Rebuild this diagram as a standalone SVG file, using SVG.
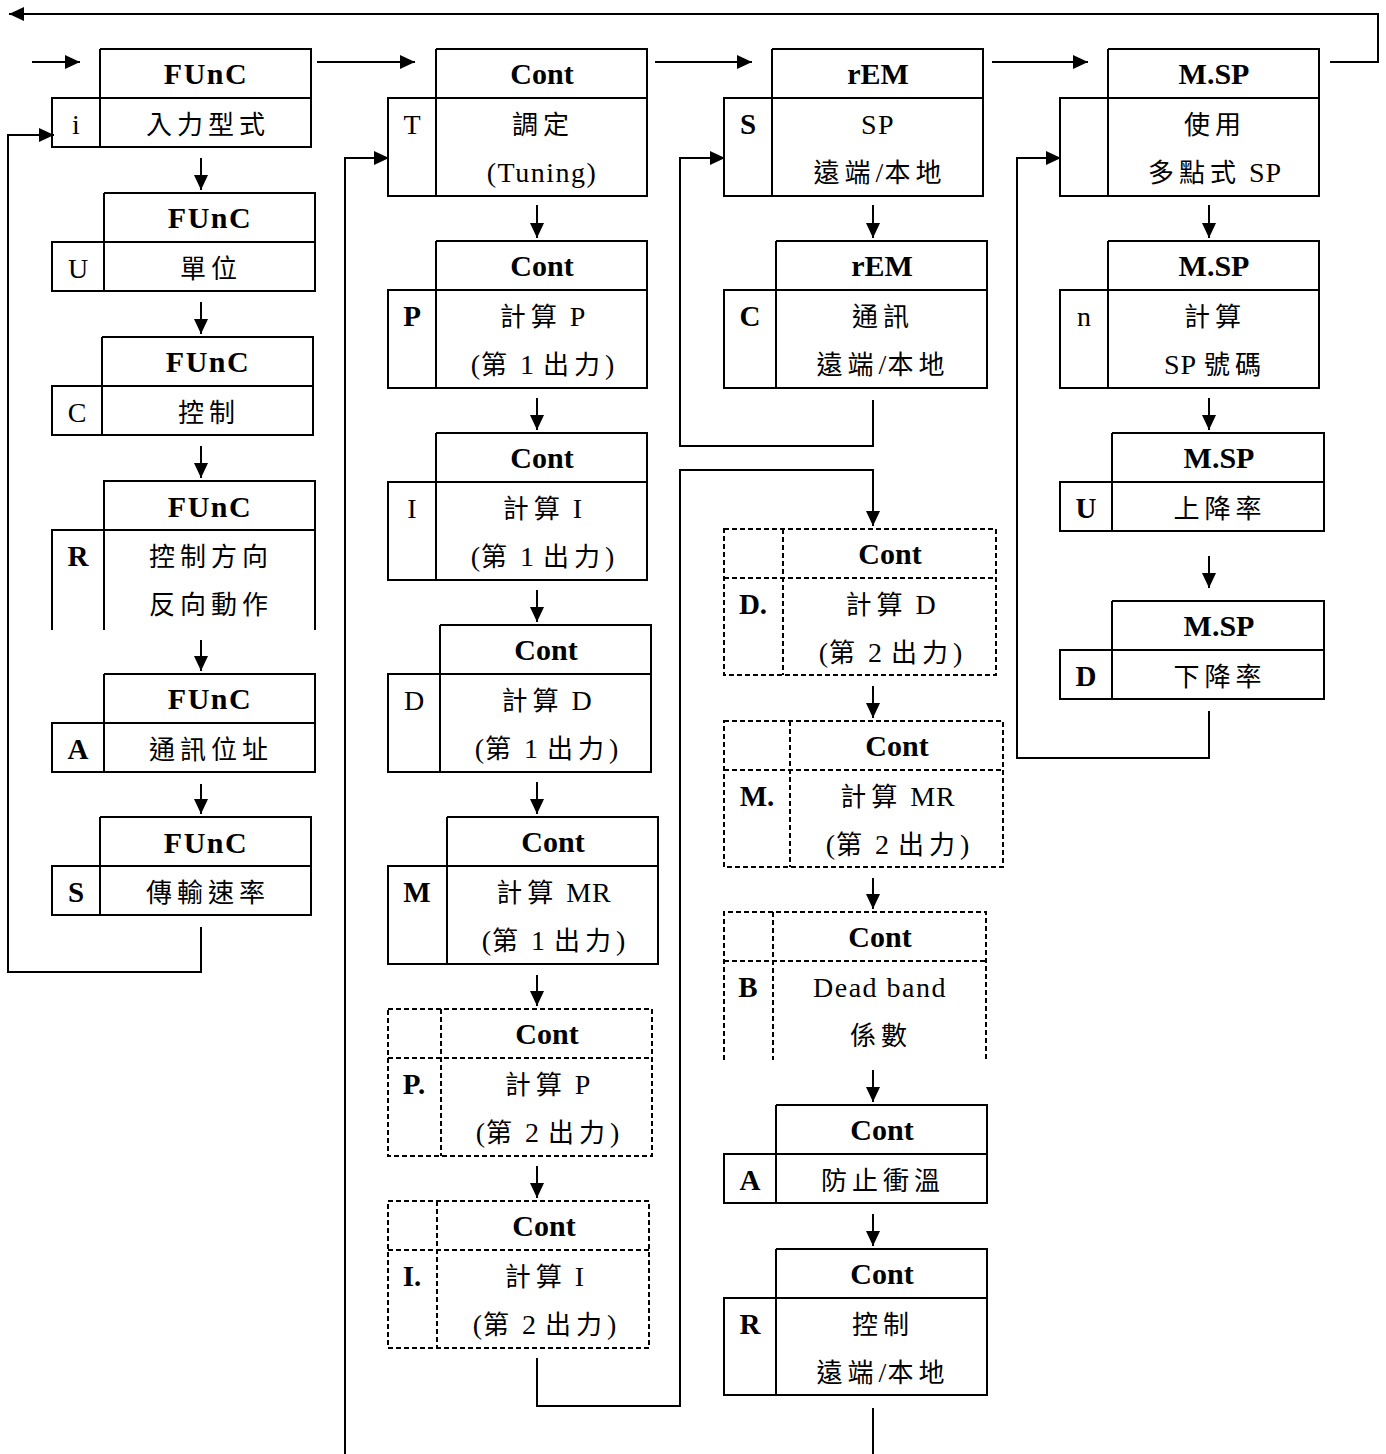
<svg xmlns="http://www.w3.org/2000/svg" width="1386" height="1454" viewBox="0 0 1386 1454">
<style>
.b{fill:none;stroke:#000;stroke-width:2}
.d{stroke-dasharray:5 3}
.c{fill:none;stroke:#000;stroke-width:2}
text{font-family:"Liberation Serif","Noto Sans CJK TC",serif;text-anchor:middle;fill:#000}
.h{font-size:30px;font-weight:bold}
.f{letter-spacing:1.5px}
.t{font-size:26px;letter-spacing:5px}
.t tspan.a{font-size:28px;letter-spacing:1px}
.l{font-size:28px;letter-spacing:1.5px}
.k{font-size:29px;font-weight:bold}
.n{font-size:28px}
</style>
<defs>
<marker id="ah" markerUnits="userSpaceOnUse" markerWidth="16" markerHeight="14" viewBox="0 0 16 14" refX="15" refY="7" orient="auto">
<path d="M0,0 L15,7 L0,14 Z" fill="#000"/>
</marker>
</defs>
<rect width="1386" height="1454" fill="#fff"/>

<g id="connectors">
<path class="c" d="M1330,62 H1378 V14 H9" marker-end="url(#ah)"/>
<path class="c" d="M32,62 H80" marker-end="url(#ah)"/>
<path class="c" d="M317,62 H415" marker-end="url(#ah)"/>
<path class="c" d="M655,62 H752" marker-end="url(#ah)"/>
<path class="c" d="M992,62 H1088" marker-end="url(#ah)"/>
<path class="c" d="M201,158 V190" marker-end="url(#ah)"/>
<path class="c" d="M201,302 V334" marker-end="url(#ah)"/>
<path class="c" d="M201,446 V478" marker-end="url(#ah)"/>
<path class="c" d="M201,640 V671" marker-end="url(#ah)"/>
<path class="c" d="M201,784 V814" marker-end="url(#ah)"/>
<path class="c" d="M201,927 V972 H8 V135 H54" marker-end="url(#ah)"/>
<path class="c" d="M537,205 V238" marker-end="url(#ah)"/>
<path class="c" d="M537,398 V430" marker-end="url(#ah)"/>
<path class="c" d="M537,590 V622" marker-end="url(#ah)"/>
<path class="c" d="M537,782 V814" marker-end="url(#ah)"/>
<path class="c" d="M537,975 V1006" marker-end="url(#ah)"/>
<path class="c" d="M537,1166 V1198" marker-end="url(#ah)"/>
<path class="c" d="M345,1454 V158 H389" marker-end="url(#ah)"/>
<path class="c" d="M537,1358 V1406 H680 V470 H873 V526" marker-end="url(#ah)"/>
<path class="c" d="M873,205 V238" marker-end="url(#ah)"/>
<path class="c" d="M873,400 V446 H680 V158 H725" marker-end="url(#ah)"/>
<path class="c" d="M873,686 V718" marker-end="url(#ah)"/>
<path class="c" d="M873,878 V909" marker-end="url(#ah)"/>
<path class="c" d="M873,1070 V1102" marker-end="url(#ah)"/>
<path class="c" d="M873,1214 V1246" marker-end="url(#ah)"/>
<path class="c" d="M873,1408 V1454"/>
<path class="c" d="M1209,205 V238" marker-end="url(#ah)"/>
<path class="c" d="M1209,398 V430" marker-end="url(#ah)"/>
<path class="c" d="M1209,556 V588" marker-end="url(#ah)"/>
<path class="c" d="M1209,711 V758 H1017 V158 H1061" marker-end="url(#ah)"/>
</g>

<!-- Column 1 -->
<g id="func-i">
<path class="b" d="M100,49 H311 V147 H52 V98 H311 M100,49 V147"/>
<text class="h f" x="206" y="84">FUnC</text>
<text class="n" x="76" y="134">i</text>
<text class="t" x="208" y="134">入力型式</text>
</g>
<g id="func-u">
<path class="b" d="M104,193 H315 V291 H52 V242 H315 M104,193 V291"/>
<text class="h f" x="210" y="228">FUnC</text>
<text class="n" x="78" y="278">U</text>
<text class="t" x="211" y="278">單位</text>
</g>
<g id="func-c">
<path class="b" d="M102,337 H313 V435 H52 V386 H313 M102,337 V435"/>
<text class="h f" x="208" y="372">FUnC</text>
<text class="n" x="77" y="422">C</text>
<text class="t" x="209" y="422">控制</text>
</g>
<g id="func-r">
<path class="b" d="M104,630 V481 H315 V630 M52,630 V530 H315"/>
<text class="h f" x="210" y="517">FUnC</text>
<text class="k" x="78" y="566">R</text>
<text class="t" x="211" y="566">控制方向</text>
<text class="t" x="211" y="614">反向動作</text>
</g>
<g id="func-a">
<path class="b" d="M104,674 H315 V772 H52 V723 H315 M104,674 V772"/>
<text class="h f" x="210" y="709">FUnC</text>
<text class="k" x="78" y="759">A</text>
<text class="t" x="211" y="759">通訊位址</text>
</g>
<g id="func-s">
<path class="b" d="M100,817 H311 V915 H52 V866 H311 M100,817 V915"/>
<text class="h f" x="206" y="853">FUnC</text>
<text class="k" x="76" y="902">S</text>
<text class="t" x="208" y="902">傳輸速率</text>
</g>

<!-- Column 2 -->
<g id="cont-t">
<path class="b" d="M436,49 H647 V196 H388 V98 H647 M436,49 V196"/>
<text class="h" x="542" y="84">Cont</text>
<text class="n" x="412" y="134">T</text>
<text class="t" x="543" y="134">調定</text>
<text class="l" x="542" y="182">(Tuning)</text>
</g>
<g id="cont-p">
<path class="b" d="M436,241 H647 V388 H388 V290 H647 M436,241 V388"/>
<text class="h" x="542" y="276">Cont</text>
<text class="k" x="412" y="326">P</text>
<text class="t" x="543" y="326">計算<tspan class="a"> P</tspan></text>
<text class="t" x="543" y="374"><tspan class="a">(</tspan>第<tspan class="a"> 1 </tspan>出力<tspan class="a">)</tspan></text>
</g>
<g id="cont-i">
<path class="b" d="M436,433 H647 V580 H388 V482 H647 M436,433 V580"/>
<text class="h" x="542" y="468">Cont</text>
<text class="n" x="412" y="518">I</text>
<text class="t" x="543" y="518">計算<tspan class="a"> I</tspan></text>
<text class="t" x="543" y="566"><tspan class="a">(</tspan>第<tspan class="a"> 1 </tspan>出力<tspan class="a">)</tspan></text>
</g>
<g id="cont-d">
<path class="b" d="M440,625 H651 V772 H388 V674 H651 M440,625 V772"/>
<text class="h" x="546" y="660">Cont</text>
<text class="n" x="414" y="710">D</text>
<text class="t" x="547" y="710">計算<tspan class="a"> D</tspan></text>
<text class="t" x="547" y="758"><tspan class="a">(</tspan>第<tspan class="a"> 1 </tspan>出力<tspan class="a">)</tspan></text>
</g>
<g id="cont-m">
<path class="b" d="M447,817 H658 V964 H388 V866 H658 M447,817 V964"/>
<text class="h" x="553" y="852">Cont</text>
<text class="k" x="417" y="902">M</text>
<text class="t" x="554" y="902">計算<tspan class="a"> MR</tspan></text>
<text class="t" x="554" y="950"><tspan class="a">(</tspan>第<tspan class="a"> 1 </tspan>出力<tspan class="a">)</tspan></text>
</g>
<g id="cont-p2">
<path class="b d" d="M388,1009 H652 V1156 H388 Z M388,1058 H652 M441,1009 V1156"/>
<text class="h" x="547" y="1044">Cont</text>
<text class="k" x="414" y="1094">P.</text>
<text class="t" x="548" y="1094">計算<tspan class="a"> P</tspan></text>
<text class="t" x="548" y="1142"><tspan class="a">(</tspan>第<tspan class="a"> 2 </tspan>出力<tspan class="a">)</tspan></text>
</g>
<g id="cont-i2">
<path class="b d" d="M388,1201 H649 V1348 H388 Z M388,1250 H649 M437,1201 V1348"/>
<text class="h" x="544" y="1236">Cont</text>
<text class="k" x="412" y="1286">I.</text>
<text class="t" x="545" y="1286">計算<tspan class="a"> I</tspan></text>
<text class="t" x="545" y="1334"><tspan class="a">(</tspan>第<tspan class="a"> 2 </tspan>出力<tspan class="a">)</tspan></text>
</g>

<!-- Column 3 -->
<g id="rem-s">
<path class="b" d="M772,49 H983 V196 H724 V98 H983 M772,49 V196"/>
<text class="h" x="878" y="84">rEM</text>
<text class="k" x="748" y="134">S</text>
<text class="l" x="878" y="134">SP</text>
<text class="t" x="880" y="182">遠端<tspan class="a">/</tspan>本地</text>
</g>
<g id="rem-c">
<path class="b" d="M776,241 H987 V388 H724 V290 H987 M776,241 V388"/>
<text class="h" x="882" y="276">rEM</text>
<text class="k" x="750" y="326">C</text>
<text class="t" x="883" y="326">通訊</text>
<text class="t" x="883" y="374">遠端<tspan class="a">/</tspan>本地</text>
</g>
<g id="cont-d2">
<path class="b d" d="M724,529 H996 V675 H724 Z M724,578 H996 M783,529 V675"/>
<text class="h" x="890" y="564">Cont</text>
<text class="k" x="753" y="614">D.</text>
<text class="t" x="891" y="614">計算<tspan class="a"> D</tspan></text>
<text class="t" x="891" y="662"><tspan class="a">(</tspan>第<tspan class="a"> 2 </tspan>出力<tspan class="a">)</tspan></text>
</g>
<g id="cont-m2">
<path class="b d" d="M724,721 H1003 V867 H724 Z M724,770 H1003 M790,721 V867"/>
<text class="h" x="897" y="756">Cont</text>
<text class="k" x="757" y="806">M.</text>
<text class="t" x="898" y="806">計算<tspan class="a"> MR</tspan></text>
<text class="t" x="898" y="854"><tspan class="a">(</tspan>第<tspan class="a"> 2 </tspan>出力<tspan class="a">)</tspan></text>
</g>
<g id="cont-b">
<path class="b d" d="M724,1060 V912 H986 V1060 M724,961 H986 M773,912 V1060"/>
<text class="h" x="880" y="947">Cont</text>
<text class="k" x="748" y="997">B</text>
<text class="l" x="880" y="997">Dead band</text>
<text class="t" x="881" y="1045">係數</text>
</g>
<g id="cont-a">
<path class="b" d="M776,1105 H987 V1203 H724 V1154 H987 M776,1105 V1203"/>
<text class="h" x="882" y="1140">Cont</text>
<text class="k" x="750" y="1190">A</text>
<text class="t" x="883" y="1190">防止衝溫</text>
</g>
<g id="cont-r">
<path class="b" d="M776,1249 H987 V1395 H724 V1298 H987 M776,1249 V1395"/>
<text class="h" x="882" y="1284">Cont</text>
<text class="k" x="750" y="1334">R</text>
<text class="t" x="883" y="1334">控制</text>
<text class="t" x="883" y="1382">遠端<tspan class="a">/</tspan>本地</text>
</g>

<!-- Column 4 -->
<g id="msp-use">
<path class="b" d="M1108,49 H1319 V196 H1060 V98 H1319 M1108,49 V196"/>
<text class="h" x="1214" y="84">M.SP</text>
<text class="t" x="1215" y="134">使用</text>
<text class="t" x="1215" y="182">多點式<tspan class="a"> SP</tspan></text>
</g>
<g id="msp-n">
<path class="b" d="M1108,241 H1319 V388 H1060 V290 H1319 M1108,241 V388"/>
<text class="h" x="1214" y="276">M.SP</text>
<text class="n" x="1084" y="326">n</text>
<text class="t" x="1215" y="326">計算</text>
<text class="t" x="1215" y="374"><tspan class="a">SP </tspan>號碼</text>
</g>
<g id="msp-u">
<path class="b" d="M1112,433 H1324 V531 H1060 V482 H1324 M1112,433 V531"/>
<text class="h" x="1219" y="468">M.SP</text>
<text class="k" x="1086" y="518">U</text>
<text class="t" x="1220" y="518">上降率</text>
</g>
<g id="msp-d">
<path class="b" d="M1112,601 H1324 V699 H1060 V650 H1324 M1112,601 V699"/>
<text class="h" x="1219" y="636">M.SP</text>
<text class="k" x="1086" y="686">D</text>
<text class="t" x="1220" y="686">下降率</text>
</g>
</svg>
